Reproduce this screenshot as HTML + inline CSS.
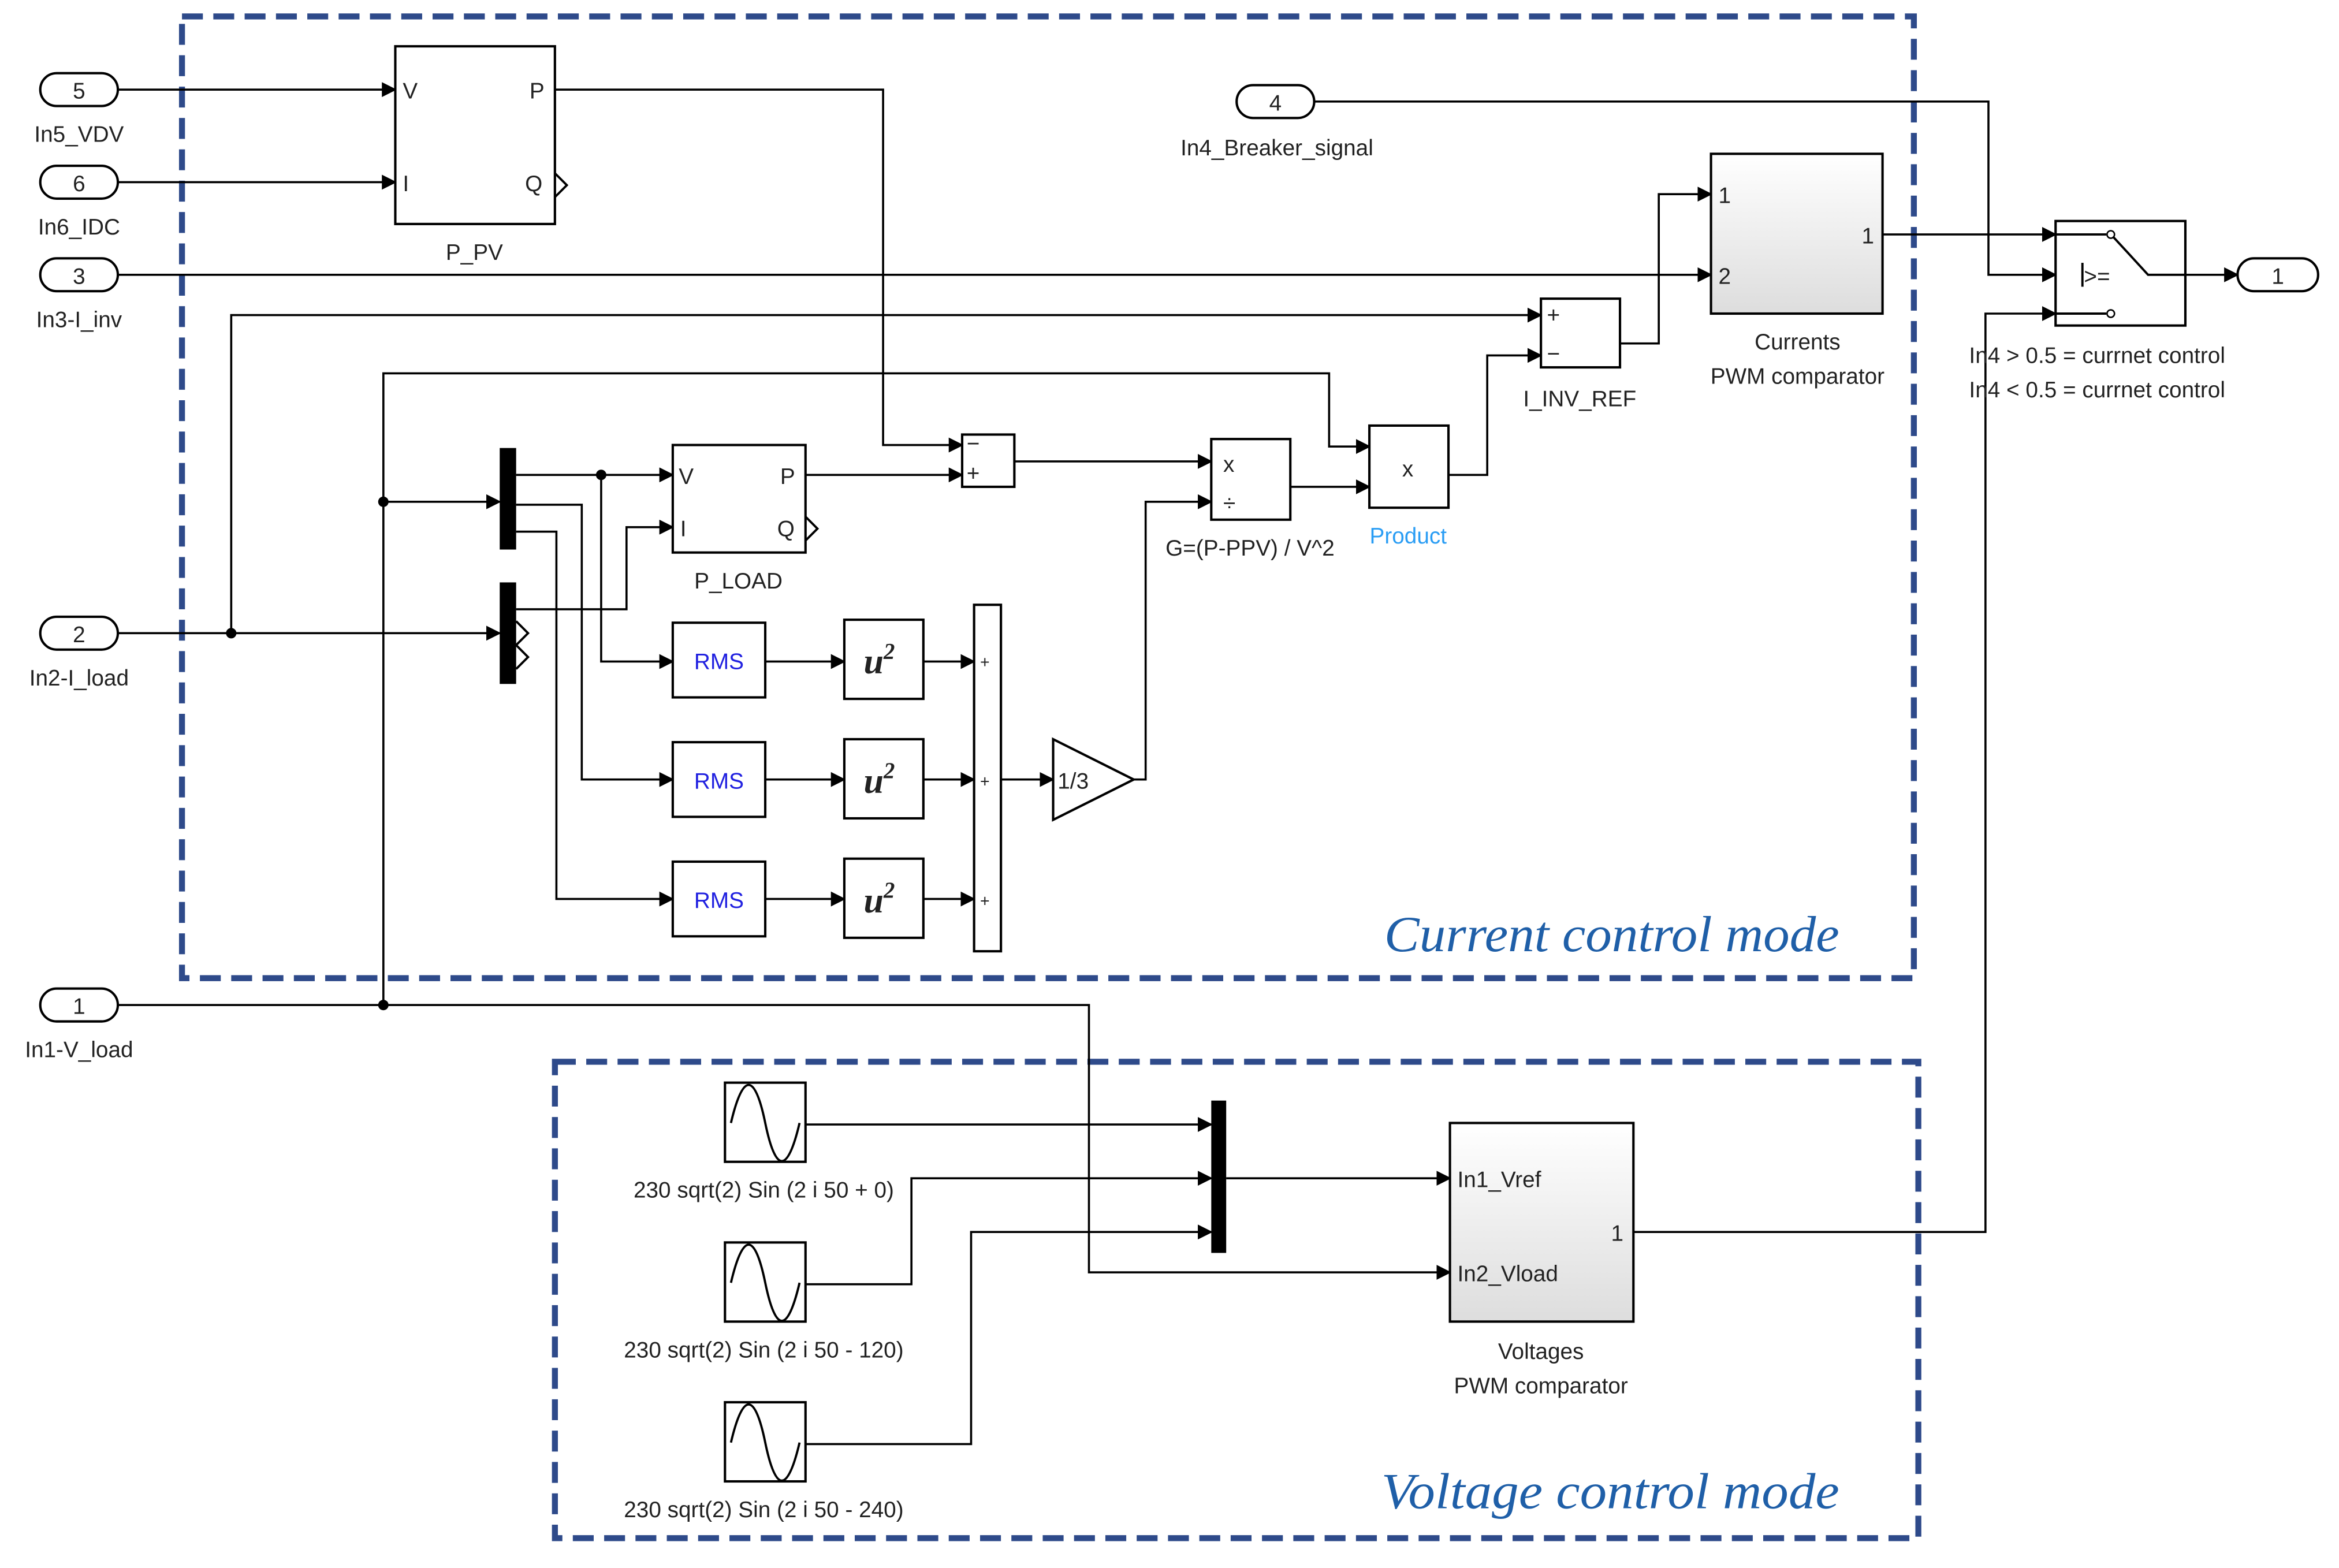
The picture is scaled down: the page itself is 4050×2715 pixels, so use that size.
<!DOCTYPE html>
<html><head><meta charset="utf-8"><style>
html,body{margin:0;padding:0;background:#fff}
svg{display:block}
text{font-family:"Liberation Sans",sans-serif;font-size:15px;fill:#222}
</style></head><body>
<svg width="4050" height="2715" viewBox="0 0 1568 1050" preserveAspectRatio="none" xmlns="http://www.w3.org/2000/svg">
<defs>
<marker id="a" markerWidth="10" markerHeight="10" refX="9" refY="5" orient="auto" markerUnits="userSpaceOnUse"><path d="M0,0 L10,5 L0,10 z" fill="#000"/></marker>
<linearGradient id="g" x1="0" y1="0" x2="0" y2="1"><stop offset="0" stop-color="#fff"/><stop offset="1" stop-color="#ddd"/></linearGradient>
</defs>
<g fill="none" stroke="#2e4a8a" stroke-width="4" stroke-dasharray="14 7">
<rect x="122" y="11" width="1161" height="644"/>
<rect x="372" y="711" width="914" height="319"/>
</g>
<g fill="none" stroke="#000" stroke-width="1.4" marker-end="url(#a)">
<path d="M79,60 H265"/>
<path d="M79,122 H265"/>
<path d="M79,184 H1147"/>
<path d="M372,60 H592 V298 H645"/>
<path d="M79,424 H335"/>
<path d="M155,424 V211 H1033"/>
<path d="M79,673 H730 V852 H972"/>
<path d="M257,673 V250 H891 V299 H918"/>
<path d="M257,336 H335"/>
<path d="M346,318 H451"/>
<path d="M403,318 V443 H451"/>
<path d="M346,338 H390 V522 H451"/>
<path d="M346,356 H373 V602 H451"/>
<path d="M346,408 H420 V353 H451"/>
<path d="M540,318 H645"/>
<path d="M680,309 H812"/>
<path d="M513,443 H566"/><path d="M513,522 H566"/><path d="M513,602 H566"/>
<path d="M619,443 H653"/><path d="M619,522 H653"/><path d="M619,602 H653"/>
<path d="M671,522 H706"/>
<path d="M760,522 H768 V336 H812"/>
<path d="M865,326 H918"/>
<path d="M971,318 H997 V238 H1033"/>
<path d="M1086,230 H1112 V130 H1147"/>
<path d="M1262,157 H1378"/>
<path d="M881,68 H1333 V184 H1378"/>
<path d="M1095,825 H1331 V210 H1378"/>
<path d="M1465,184 H1500"/>
<path d="M540,753 H812"/>
<path d="M540,860 H611 V789 H812"/>
<path d="M540,967 H651 V825 H812"/>
<path d="M822,789 H972"/>
</g>
<g fill="#000"><circle cx="155" cy="424" r="3.5"/><circle cx="257" cy="673" r="3.5"/><circle cx="257" cy="336" r="3.5"/><circle cx="403" cy="318" r="3.5"/></g>
<g fill="#fff" stroke="#000" stroke-width="1.6">
<rect x="27" y="49" width="52" height="22" rx="11"/>
<rect x="27" y="111" width="52" height="22" rx="11"/>
<rect x="27" y="173" width="52" height="22" rx="11"/>
<rect x="27" y="413" width="52" height="22" rx="11"/>
<rect x="27" y="662" width="52" height="22" rx="11"/>
<rect x="829" y="57" width="52" height="22" rx="11"/>
<rect x="1500" y="173" width="54" height="22" rx="11"/>
</g>
<g text-anchor="middle">
<text x="53" y="66">5</text><text x="53" y="128">6</text><text x="53" y="190">3</text><text x="53" y="430">2</text><text x="53" y="679">1</text><text x="855" y="74">4</text><text x="1527" y="190">1</text>
<text x="53" y="95">In5_VDV</text><text x="53" y="157">In6_IDC</text><text x="53" y="219">In3-I_inv</text><text x="53" y="459">In2-I_load</text><text x="53" y="708">In1-V_load</text><text x="856" y="104">In4_Breaker_signal</text>
<text x="318" y="174">P_PV</text><text x="495" y="394">P_LOAD</text>
<text x="838" y="372">G=(P-PPV) / V^2</text>
<text x="944" y="364" style="fill:#2a9df4">Product</text>
<text x="1059" y="272">I_INV_REF</text>
<text x="1205" y="234">Currents</text><text x="1205" y="257">PWM comparator</text>
<text x="1033" y="910">Voltages</text><text x="1033" y="933">PWM comparator</text>
<text x="512" y="802">230 sqrt(2) Sin (2 i 50 + 0)</text>
<text x="512" y="909">230 sqrt(2) Sin (2 i 50 - 120)</text>
<text x="512" y="1016">230 sqrt(2) Sin (2 i 50 - 240)</text>
</g>
<text x="1320" y="243">In4 &gt; 0.5 = currnet control</text>
<text x="1320" y="266">In4 &lt; 0.5 = currnet control</text>
<g stroke="#000" stroke-width="1.6" fill="#fff">
<rect x="265" y="31" width="107" height="119"/>
<rect x="451" y="298" width="89" height="72"/>
<rect x="645" y="291" width="35" height="35"/>
<rect x="812" y="294" width="53" height="54"/>
<rect x="918" y="285" width="53" height="55"/>
<rect x="1033" y="200" width="53" height="46"/>
<rect x="1147" y="103" width="115" height="107" fill="url(#g)"/>
<rect x="1378" y="148" width="87" height="70"/>
<rect x="972" y="752" width="123" height="133" fill="url(#g)"/>
<rect x="451" y="417" width="62" height="50"/><rect x="451" y="497" width="62" height="50"/><rect x="451" y="577" width="62" height="50"/>
<rect x="566" y="415" width="53" height="53"/><rect x="566" y="495" width="53" height="53"/><rect x="566" y="575" width="53" height="53"/>
<rect x="653" y="405" width="18" height="232"/>
<path d="M706,495 L760,522 L706,549 z"/>
<rect x="486" y="725" width="54" height="53"/><rect x="486" y="832" width="54" height="53"/><rect x="486" y="939" width="54" height="53"/>
</g>
<g fill="#000"><rect x="335" y="300" width="11" height="68"/><rect x="335" y="390" width="11" height="68"/><rect x="812" y="737" width="10" height="102"/></g>
<g fill="none" stroke="#000" stroke-width="1.5">
<path d="M372,116 l8,8 l-8,8"/><path d="M540,346 l8,8 l-8,8"/>
<path d="M346,416 l8,8 l-8,8"/><path d="M346,432 l8,8 l-8,8"/>
<path d="M1378,157 H1412 M1417,159 L1440,184 H1465 M1378,210 H1412"/>
<path d="M1396,176 V192"/>
<path d="M490,752 C498,718 506,718 513,752 S528,786 536,752"/>
<path d="M490,859 C498,825 506,825 513,859 S528,893 536,859"/>
<path d="M490,966 C498,932 506,932 513,966 S528,1000 536,966"/>
</g>
<g fill="#fff" stroke="#000"><circle cx="1415" cy="157" r="2.5"/><circle cx="1415" cy="210" r="2.5"/></g>
<g style="font-size:14px">
<text x="270" y="66">V</text><text x="355" y="66">P</text><text x="270" y="128">I</text><text x="352" y="128">Q</text>
<text x="455" y="324">V</text><text x="523" y="324">P</text><text x="456" y="359">I</text><text x="521" y="359">Q</text>
<text x="648" y="302">−</text><text x="648" y="322">+</text>
<text x="820" y="316">x</text><text x="820" y="342">÷</text>
<text x="940" y="319">x</text>
<text x="1037" y="216">+</text><text x="1037" y="242">−</text>
<text x="1152" y="136">1</text><text x="1152" y="190">2</text><text x="1248" y="163">1</text>
<text x="1397" y="190">&gt;=</text>
<text x="977" y="795">In1_Vref</text><text x="977" y="858">In2_Vload</text><text x="1080" y="831">1</text>
<text x="709" y="528">1/3</text>
<text x="657" y="447" style="font-size:11px">+</text><text x="657" y="527" style="font-size:11px">+</text><text x="657" y="607" style="font-size:11px">+</text>
</g>
<g text-anchor="middle" style="font-size:16px">
<text x="482" y="448" style="fill:#2020e0">RMS</text><text x="482" y="528" style="fill:#2020e0">RMS</text><text x="482" y="608" style="fill:#2020e0">RMS</text>
</g>
<g style="font-style:italic;font-weight:bold;font-size:24px">
<text x="579" y="451" style="font-family:'Liberation Serif',serif;font-size:24px">u<tspan dy="-10" style="font-size:15px">2</tspan></text>
<text x="579" y="531" style="font-family:'Liberation Serif',serif;font-size:24px">u<tspan dy="-10" style="font-size:15px">2</tspan></text>
<text x="579" y="611" style="font-family:'Liberation Serif',serif;font-size:24px">u<tspan dy="-10" style="font-size:15px">2</tspan></text>
</g>
<text x="928" y="637" textLength="305" lengthAdjust="spacingAndGlyphs" style="font-family:'Liberation Serif',serif;font-style:italic;font-size:34px;fill:#1f5fa8">Current control mode</text>
<text x="926" y="1010" textLength="307" lengthAdjust="spacingAndGlyphs" style="font-family:'Liberation Serif',serif;font-style:italic;font-size:34px;fill:#1f5fa8">Voltage control mode</text>
</svg>
</body></html>
